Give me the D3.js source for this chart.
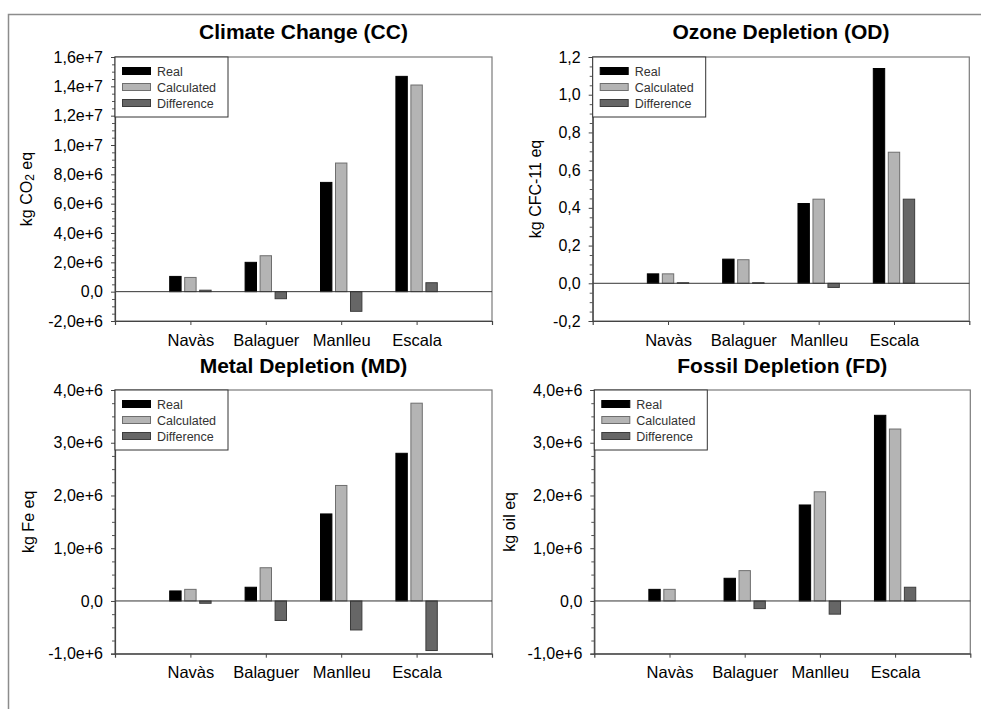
<!DOCTYPE html>
<html>
<head>
<meta charset="utf-8">
<script src="https://cdn.jsdelivr.net/npm/d3@7"></script>
<style>
  html, body { margin: 0; padding: 0; background: #fff; }
  svg { display: block; font-family: "Liberation Sans", Arial, sans-serif; }
</style>
</head>
<body>
<svg id="chart" width="981" height="709"></svg>
<script>
// Sites and series
const categories = ["Navàs", "Balaguer", "Manlleu", "Escala"];
const seriesNames = ["Real", "Calculated", "Difference"];
const seriesFill = ["#000000", "#b4b4b4", "#666666"];
const seriesStroke = ["#000000", "#6e6e6e", "#3c3c3c"];

// Climate Change (kg CO2 eq)
const ccReal = [1.04e6, 2.0e6, 7.45e6, 14.68e6];
const ccCalculated = [0.97e6, 2.45e6, 8.77e6, 14.09e6];
const ccDifference = [0.1e6, -0.48e6, -1.34e6, 0.61e6];
const ccTicks = [-2e6, 0, 2e6, 4e6, 6e6, 8e6, 10e6, 12e6, 14e6, 16e6];
const ccTickLabels = ["-2,0e+6", "0,0", "2,0e+6", "4,0e+6", "6,0e+6", "8,0e+6", "1,0e+7", "1,2e+7", "1,4e+7", "1,6e+7"];

// Ozone Depletion (kg CFC-11 eq)
const odReal = [0.05, 0.128, 0.423, 1.139];
const odCalculated = [0.05, 0.125, 0.446, 0.695];
const odDifference = [0.003, 0.003, -0.022, 0.446];
const odTicks = [-0.2, 0, 0.2, 0.4, 0.6, 0.8, 1.0, 1.2];
const odTickLabels = ["-0,2", "0,0", "0,2", "0,4", "0,6", "0,8", "1,0", "1,2"];

// Metal Depletion (kg Fe eq)
const mdReal = [0.19e6, 0.26e6, 1.65e6, 2.80e6];
const mdCalculated = [0.22e6, 0.63e6, 2.19e6, 3.75e6];
const mdDifference = [-0.044e6, -0.37e6, -0.55e6, -0.94e6];
const mdTicks = [-1e6, 0, 1e6, 2e6, 3e6, 4e6];
const mdTickLabels = ["-1,0e+6", "0,0", "1,0e+6", "2,0e+6", "3,0e+6", "4,0e+6"];

// Fossil Depletion (kg oil eq)
const fdReal = [0.22e6, 0.43e6, 1.82e6, 3.52e6];
const fdCalculated = [0.22e6, 0.575e6, 2.07e6, 3.26e6];
const fdDifference = [0, -0.145e6, -0.25e6, 0.26e6];
const fdTicks = [-1e6, 0, 1e6, 2e6, 3e6, 4e6];
const fdTickLabels = ["-1,0e+6", "0,0", "1,0e+6", "2,0e+6", "3,0e+6", "4,0e+6"];

const svg = d3.select("#chart");
svg.append("rect").attr("width", 981).attr("height", 709).attr("fill", "#fff");

// outer frame (left and top edges)
svg.append("path")
  .attr("d", "M8.5,709 L8.5,14.5 L981,14.5")
  .attr("fill", "none").attr("stroke", "#8c8c8c").attr("stroke-width", 1.5);

const panels = [
  { title: "Climate Change (CC)", unit: ["kg CO", "2", " eq"], values: [ccReal, ccCalculated, ccDifference],
    ticks: ccTicks, labels: ccTickLabels, minor: 4,
    x0: 115, x1: 492, y0: 57, y1: 321, titleY: 39, labelOffset: 89 },
  { title: "Ozone Depletion (OD)", unit: ["kg CFC-11 eq"], values: [odReal, odCalculated, odDifference],
    ticks: odTicks, labels: odTickLabels, minor: 4,
    x0: 592.7, x1: 969.3, y0: 57, y1: 321, titleY: 39, labelOffset: 58 },
  { title: "Metal Depletion (MD)", unit: ["kg Fe eq"], values: [mdReal, mdCalculated, mdDifference],
    ticks: mdTicks, labels: mdTickLabels, minor: 4,
    x0: 115, x1: 492, y0: 390, y1: 653.7, titleY: 372.5, labelOffset: 87 },
  { title: "Fossil Depletion (FD)", unit: ["kg oil eq"], values: [fdReal, fdCalculated, fdDifference],
    ticks: fdTicks, labels: fdTickLabels, minor: 4,
    x0: 594.3, x1: 970.3, y0: 390, y1: 653.7, titleY: 372.5, labelOffset: 85 }
];

panels.forEach(p => {
  const g = svg.append("g");
  const yMin = p.ticks[0], yMax = p.ticks[p.ticks.length - 1];
  const y = d3.scaleLinear().domain([yMin, yMax]).range([p.y1, p.y0]);
  // category positions 1..4 in a 0..5 span
  const x = d3.scaleLinear().domain([0, categories.length + 1]).range([p.x0, p.x1]);
  const step = x(1) - x(0);
  const xs = d3.scaleBand().domain(seriesNames).range([-0.2745 * step, 0.2745 * step]).paddingInner(0.24);

  // minor tick values
  const minorVals = [];
  for (let i = 0; i < p.ticks.length - 1; i++) {
    const a = p.ticks[i], b = p.ticks[i + 1];
    for (let k = 1; k < p.minor; k++) minorVals.push(a + (b - a) * k / p.minor);
  }

  // plot frame (top/right)
  g.append("rect")
    .attr("x", p.x0).attr("y", p.y0)
    .attr("width", p.x1 - p.x0).attr("height", p.y1 - p.y0)
    .attr("fill", "none").attr("stroke", "#7a7a7a").attr("stroke-width", 1.2);

  // bars
  seriesNames.forEach((s, si) => {
    g.append("g").selectAll("rect")
      .data(p.values[si])
      .join("rect")
      .attr("x", (d, i) => x(i + 1) + xs(s))
      .attr("width", xs.bandwidth())
      .attr("y", d => y(Math.max(0, d)))
      .attr("height", d => Math.abs(y(d) - y(0)))
      .attr("fill", seriesFill[si])
      .attr("stroke", seriesStroke[si])
      .attr("stroke-width", 1);
  });

  // zero line
  g.append("line")
    .attr("x1", p.x0).attr("x2", p.x1)
    .attr("y1", y(0)).attr("y2", y(0))
    .attr("stroke", "#333").attr("stroke-width", 1);

  // y axis: minor ticks
  g.append("g")
    .attr("transform", `translate(${p.x0},0)`)
    .call(d3.axisLeft(y).tickValues(minorVals).tickSize(3).tickFormat(""))
    .call(a => a.select(".domain").remove())
    .call(a => a.selectAll("line").attr("stroke", "#555"));

  // y axis: major ticks and labels
  g.append("g")
    .attr("transform", `translate(${p.x0},0)`)
    .call(d3.axisLeft(y).tickValues(p.ticks).tickSize(4).tickPadding(8)
      .tickFormat((d, i) => p.labels[i]))
    .call(a => a.select(".domain").attr("stroke", "#444").attr("stroke-width", 1.2))
    .call(a => a.selectAll("line").attr("stroke", "#444"))
    .call(a => a.selectAll("text").attr("font-size", 16).attr("fill", "#000")
      .attr("font-family", "'Liberation Sans', Arial, sans-serif"));

  // x axis
  g.append("g")
    .attr("transform", `translate(0,${p.y1})`)
    .call(d3.axisBottom(x).tickValues(d3.range(1, categories.length + 1)).tickSize(4).tickPadding(9)
      .tickFormat(d => categories[d - 1]))
    .call(a => a.select(".domain").attr("stroke", "#444").attr("stroke-width", 1.2))
    .call(a => a.selectAll("line").attr("stroke", "#444"))
    .call(a => a.selectAll("text").attr("font-size", 16.5).attr("fill", "#000")
      .attr("font-family", "'Liberation Sans', Arial, sans-serif"));

  // title
  g.append("text")
    .attr("x", (p.x0 + p.x1) / 2).attr("y", p.titleY)
    .attr("text-anchor", "middle")
    .attr("font-size", 21).attr("font-weight", "bold")
    .text(p.title);

  // y label
  const yl = g.append("text")
    .attr("transform", `translate(${p.x0 - p.labelOffset},${(p.y0 + p.y1) / 2}) rotate(-90)`)
    .attr("text-anchor", "middle")
    .attr("dominant-baseline", "central")
    .attr("font-size", 16);
  yl.append("tspan").text(p.unit[0]);
  if (p.unit.length > 1) {
    yl.append("tspan").attr("font-size", 12).attr("dy", 4).text(p.unit[1]);
    yl.append("tspan").attr("dy", -4).text(p.unit[2]);
  }

  // legend
  const lg = g.append("g").attr("transform", `translate(${p.x0},${p.y0})`);
  lg.append("rect").attr("width", 113).attr("height", 60)
    .attr("fill", "#fff").attr("stroke", "#333").attr("stroke-width", 1);
  seriesNames.forEach((s, si) => {
    const cy = 14 + si * 16;
    lg.append("rect").attr("x", 7.5).attr("y", cy - 3.5).attr("width", 28).attr("height", 7)
      .attr("fill", seriesFill[si]).attr("stroke", seriesStroke[si]).attr("stroke-width", 1);
    lg.append("text").attr("x", 42).attr("y", cy + 0.5).attr("dominant-baseline", "central")
      .attr("font-size", 12.5).attr("fill", "#333").text(s);
  });
});
</script>
</body>
</html>
